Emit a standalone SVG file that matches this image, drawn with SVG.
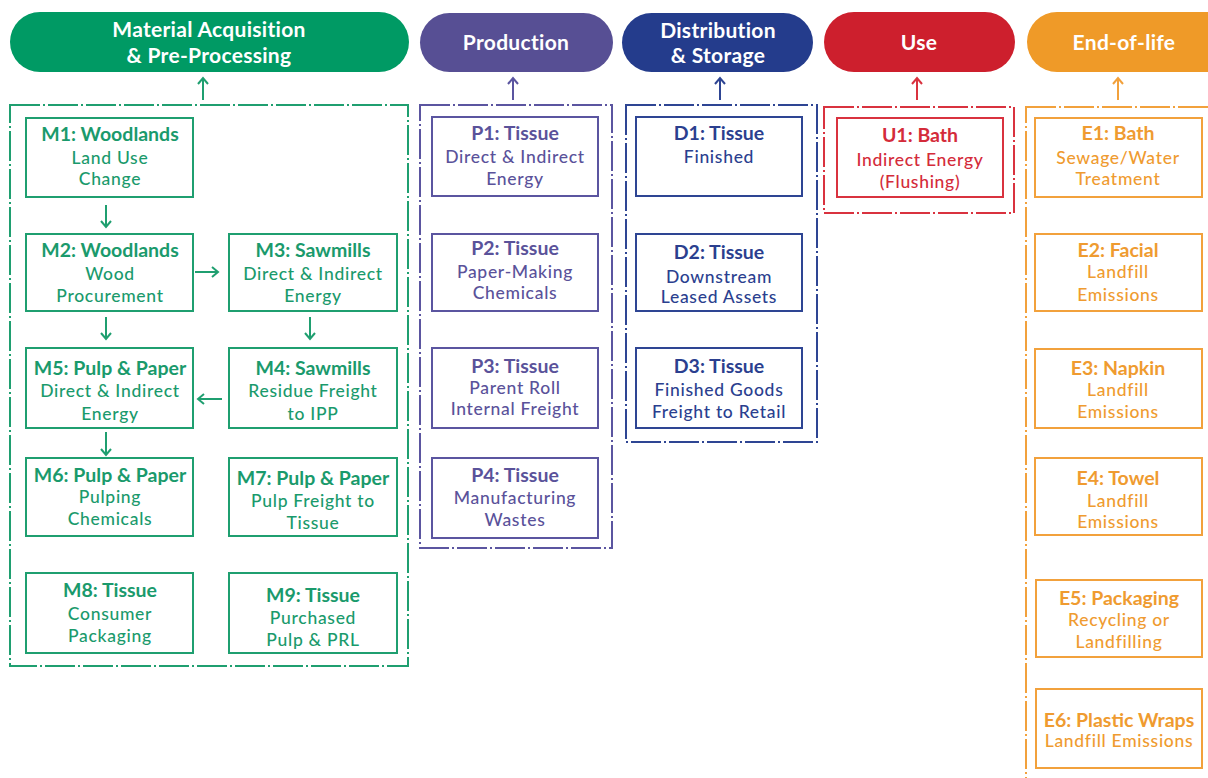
<svg xmlns="http://www.w3.org/2000/svg" width="1208" height="778" viewBox="0 0 1208 778">
<style>
text{font-family:Lato,"Noto Sans","Liberation Sans",sans-serif;text-anchor:middle}
.h{fill:#fff;font-weight:700;font-size:21px;letter-spacing:0.3px}
.t{font-weight:700;font-size:19.5px}
.s{font-weight:500;font-size:17.5px;letter-spacing:0.7px}
.box{fill:#fff;stroke-width:2}
.grp{fill:none;stroke-width:2;stroke-dasharray:30 3 2 3}
.g{fill:#1a9a6c;stroke:#1f9f70}
.p{fill:#5a529a;stroke:#5b55a0}
.n{fill:#2b3f8f;stroke:#2e4593}
.r{fill:#d42b3a;stroke:#d9323f}
.o{fill:#ef9b30;stroke:#f2a13c}
text.g,text.p,text.n,text.r,text.o{stroke:none}
.box.g,.box.p,.box.n,.box.r,.box.o,.grp.g,.grp.p,.grp.n,.grp.r,.grp.o{fill:none}
.ln{fill:none;stroke-width:2}
</style>
<defs>
<marker id="ag" viewBox="0 0 12 12" refX="10" refY="6" markerWidth="12" markerHeight="12" markerUnits="userSpaceOnUse" orient="auto"><path d="M4,1 L10,6 L4,11" fill="none" stroke="#1f9f70" stroke-width="2"/></marker>
<marker id="ap" viewBox="0 0 12 12" refX="10" refY="6" markerWidth="12" markerHeight="12" markerUnits="userSpaceOnUse" orient="auto"><path d="M4,1 L10,6 L4,11" fill="none" stroke="#5b55a0" stroke-width="2"/></marker>
<marker id="an" viewBox="0 0 12 12" refX="10" refY="6" markerWidth="12" markerHeight="12" markerUnits="userSpaceOnUse" orient="auto"><path d="M4,1 L10,6 L4,11" fill="none" stroke="#2e4593" stroke-width="2"/></marker>
<marker id="ar" viewBox="0 0 12 12" refX="10" refY="6" markerWidth="12" markerHeight="12" markerUnits="userSpaceOnUse" orient="auto"><path d="M4,1 L10,6 L4,11" fill="none" stroke="#d9323f" stroke-width="2"/></marker>
<marker id="ao" viewBox="0 0 12 12" refX="10" refY="6" markerWidth="12" markerHeight="12" markerUnits="userSpaceOnUse" orient="auto"><path d="M4,1 L10,6 L4,11" fill="none" stroke="#f2a13c" stroke-width="2"/></marker>
</defs>

<g id="headers">
<g id="h-material"><rect x="10" y="12" width="399" height="60" rx="30" fill="#009a64"/><text class="h" x="209" y="37">Material Acquisition</text><text class="h" x="209" y="63">&amp; Pre-Processing</text></g>
<g id="h-production"><rect x="420" y="13" width="193" height="59" rx="29.5" fill="#574f94"/><text class="h" x="516" y="50">Production</text></g>
<g id="h-distribution"><rect x="622" y="13" width="191" height="59" rx="29.5" fill="#243c8c"/><text class="h" x="718" y="38">Distribution</text><text class="h" x="718" y="63">&amp; Storage</text></g>
<g id="h-use"><rect x="824" y="12" width="191" height="60" rx="30" fill="#cd1f2d"/><text class="h" x="919" y="50">Use</text></g>
<g id="h-eol"><rect x="1027" y="12" width="240" height="60" rx="30" fill="#ef9a28"/><text class="h" x="1124" y="50">End-of-life</text></g>
</g>

<g id="groups">
<rect class="grp g" x="10" y="105" width="398" height="561"/>
<rect class="grp p" x="420" y="105" width="192" height="443"/>
<rect class="grp n" x="626" y="105" width="191" height="337"/>
<rect class="grp r" x="824" y="107" width="190" height="106"/>
<rect class="grp o" x="1026" y="107" width="220" height="700"/>
</g>

<g id="connectors">
<line class="ln g" x1="203" y1="100" x2="203" y2="78" marker-end="url(#ag)"/>
<line class="ln p" x1="513" y1="100" x2="513" y2="78" marker-end="url(#ap)"/>
<line class="ln n" x1="720" y1="100" x2="720" y2="78" marker-end="url(#an)"/>
<line class="ln r" x1="917" y1="100" x2="917" y2="78" marker-end="url(#ar)"/>
<line class="ln o" x1="1118" y1="100" x2="1118" y2="78" marker-end="url(#ao)"/>
<line class="ln g" x1="106" y1="205" x2="106" y2="227" marker-end="url(#ag)"/>
<line class="ln g" x1="195" y1="272" x2="218" y2="272" marker-end="url(#ag)"/>
<line class="ln g" x1="106" y1="317" x2="106" y2="339" marker-end="url(#ag)"/>
<line class="ln g" x1="310" y1="317" x2="310" y2="339" marker-end="url(#ag)"/>
<line class="ln g" x1="222" y1="399" x2="198" y2="399" marker-end="url(#ag)"/>
<line class="ln g" x1="106" y1="432" x2="106" y2="455" marker-end="url(#ag)"/>
</g>

<g id="M1"><rect class="box g" x="26" y="118" width="167" height="79"/><text class="t g" x="110" y="141">M1: Woodlands</text><text class="s g" x="110" y="164">Land Use</text><text class="s g" x="110" y="185">Change</text></g>
<g id="M2"><rect class="box g" x="26" y="234" width="167" height="77"/><text class="t g" x="110" y="257">M2: Woodlands</text><text class="s g" x="110" y="280">Wood</text><text class="s g" x="110" y="302">Procurement</text></g>
<g id="M3"><rect class="box g" x="229" y="234" width="168" height="77"/><text class="t g" x="313" y="257">M3: Sawmills</text><text class="s g" x="313" y="280">Direct &amp; Indirect</text><text class="s g" x="313" y="302">Energy</text></g>
<g id="M4"><rect class="box g" x="229" y="348" width="168" height="80"/><text class="t g" x="313" y="375">M4: Sawmills</text><text class="s g" x="313" y="397">Residue Freight</text><text class="s g" x="313" y="420">to IPP</text></g>
<g id="M5"><rect class="box g" x="26" y="348" width="167" height="80"/><text class="t g" x="110" y="375">M5: Pulp &amp; Paper</text><text class="s g" x="110" y="397">Direct &amp; Indirect</text><text class="s g" x="110" y="420">Energy</text></g>
<g id="M6"><rect class="box g" x="26" y="458" width="167" height="78"/><text class="t g" x="110" y="482">M6: Pulp &amp; Paper</text><text class="s g" x="110" y="503">Pulping</text><text class="s g" x="110" y="525">Chemicals</text></g>
<g id="M7"><rect class="box g" x="229" y="458" width="168" height="78"/><text class="t g" x="313" y="485">M7: Pulp &amp; Paper</text><text class="s g" x="313" y="507">Pulp Freight to</text><text class="s g" x="313" y="529">Tissue</text></g>
<g id="M8"><rect class="box g" x="26" y="573" width="167" height="80"/><text class="t g" x="110" y="597">M8: Tissue</text><text class="s g" x="110" y="620">Consumer</text><text class="s g" x="110" y="642">Packaging</text></g>
<g id="M9"><rect class="box g" x="229" y="573" width="168" height="80"/><text class="t g" x="313" y="602">M9: Tissue</text><text class="s g" x="313" y="624">Purchased</text><text class="s g" x="313" y="646">Pulp &amp; PRL</text></g>

<g id="P1"><rect class="box p" x="432" y="117" width="166" height="79"/><text class="t p" x="515" y="140">P1: Tissue</text><text class="s p" x="515" y="163">Direct &amp; Indirect</text><text class="s p" x="515" y="185">Energy</text></g>
<g id="P2"><rect class="box p" x="432" y="234" width="166" height="77"/><text class="t p" x="515" y="255">P2: Tissue</text><text class="s p" x="515" y="278">Paper-Making</text><text class="s p" x="515" y="299">Chemicals</text></g>
<g id="P3"><rect class="box p" x="432" y="348" width="166" height="80"/><text class="t p" x="515" y="373">P3: Tissue</text><text class="s p" x="515" y="394">Parent Roll</text><text class="s p" x="515" y="415">Internal Freight</text></g>
<g id="P4"><rect class="box p" x="432" y="458" width="166" height="80"/><text class="t p" x="515" y="482">P4: Tissue</text><text class="s p" x="515" y="504">Manufacturing</text><text class="s p" x="515" y="526">Wastes</text></g>

<g id="D1"><rect class="box n" x="636" y="117" width="166" height="79"/><text class="t n" x="719" y="140">D1: Tissue</text><text class="s n" x="719" y="163">Finished</text></g>
<g id="D2"><rect class="box n" x="636" y="234" width="166" height="77"/><text class="t n" x="719" y="259">D2: Tissue</text><text class="s n" x="719" y="283">Downstream</text><text class="s n" x="719" y="303">Leased Assets</text></g>
<g id="D3"><rect class="box n" x="636" y="348" width="166" height="80"/><text class="t n" x="719" y="373">D3: Tissue</text><text class="s n" x="719" y="396">Finished Goods</text><text class="s n" x="719" y="418">Freight to Retail</text></g>

<g id="U1"><rect class="box r" x="837" y="118" width="166" height="79"/><text class="t r" x="920" y="142">U1: Bath</text><text class="s r" x="920" y="166">Indirect Energy</text><text class="s r" x="920" y="188">(Flushing)</text></g>

<g id="E1"><rect class="box o" x="1035" y="118" width="167" height="79"/><text class="t o" x="1118" y="140">E1: Bath</text><text class="s o" x="1118" y="164">Sewage/Water</text><text class="s o" x="1118" y="185">Treatment</text></g>
<g id="E2"><rect class="box o" x="1035" y="234" width="167" height="77"/><text class="t o" x="1118" y="257">E2: Facial</text><text class="s o" x="1118" y="278">Landfill</text><text class="s o" x="1118" y="301">Emissions</text></g>
<g id="E3"><rect class="box o" x="1035" y="349" width="167" height="79"/><text class="t o" x="1118" y="375">E3: Napkin</text><text class="s o" x="1118" y="396">Landfill</text><text class="s o" x="1118" y="418">Emissions</text></g>
<g id="E4"><rect class="box o" x="1035" y="458" width="167" height="77"/><text class="t o" x="1118" y="485">E4: Towel</text><text class="s o" x="1118" y="507">Landfill</text><text class="s o" x="1118" y="528">Emissions</text></g>
<g id="E5"><rect class="box o" x="1036" y="580" width="166" height="77"/><text class="t o" x="1119" y="605">E5: Packaging</text><text class="s o" x="1119" y="626">Recycling or</text><text class="s o" x="1119" y="648">Landfilling</text></g>
<g id="E6"><rect class="box o" x="1036" y="689" width="166" height="79"/><text class="t o" x="1119" y="727">E6: Plastic Wraps</text><text class="s o" x="1119" y="747">Landfill Emissions</text></g>
</svg>
